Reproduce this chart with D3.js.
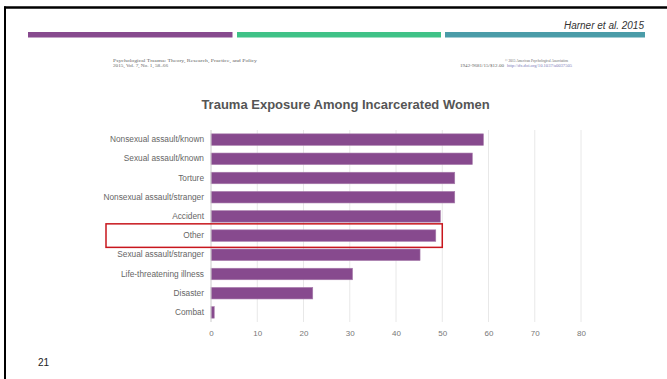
<!DOCTYPE html>
<html><head><meta charset="utf-8">
<script src="https://cdn.jsdelivr.net/npm/d3@7"></script>
<style>html,body{margin:0;padding:0;background:#fff;}svg{display:block;}</style>
</head><body>
<script>
const categories = ["Nonsexual assault/known","Sexual assault/known","Torture","Nonsexual assault/stranger","Accident","Other","Sexual assault/stranger","Life-threatening illness","Disaster","Combat"];
const values = [58.9, 56.5, 52.7, 52.7, 49.6, 48.6, 45.2, 30.6, 22.0, 0.7];
const xTicks = [0,10,20,30,40,50,60,70,80];
const highlighted = "Other";
const chartTitle = "Trauma Exposure Among Incarcerated Women";
const citation = "Harner et al. 2015";
const pageNumber = "21";

const W = 667, H = 379;
const svg = d3.select("body").append("svg").attr("width", W).attr("height", H);

// slide frame
svg.append("line").attr("x1",4).attr("x2",W).attr("y1",7.5).attr("y2",7.5).attr("stroke","#000").attr("stroke-width",2.5);
svg.append("line").attr("x1",5).attr("x2",5).attr("y1",6.5).attr("y2",H).attr("stroke","#000").attr("stroke-width",2);

// header color bars
const hdr = [[28,232.5,"#874a8e"],[237,441,"#3fc287"],[445,645,"#4a9ca8"]];
svg.selectAll("rect.hdr").data(hdr).join("rect").attr("class","hdr")
  .attr("x",d=>d[0]).attr("y",32).attr("width",d=>d[1]-d[0]).attr("height",5.5).attr("fill",d=>d[2]);

svg.append("text").attr("x",644).attr("y",28.5).attr("text-anchor","end")
  .attr("font-family","Liberation Sans, Arial, sans-serif").attr("font-style","italic")
  .attr("font-size",10).attr("fill","#333").text(citation);

// journal header text
const jf = "Liberation Serif, Times New Roman, serif";
function jt(x0, yy, len, txt, col){
  return svg.append("text").attr("x",x0).attr("y",yy).attr("font-family",jf).attr("font-size",4.6)
    .attr("fill",col||"#666").attr("textLength",len).attr("lengthAdjust","spacingAndGlyphs").text(txt);
}
jt(113, 61.5, 144, "Psychological Trauma: Theory, Research, Practice, and Policy");
jt(113, 66.5, 55, "2015, Vol. 7, No. 1, 58–66");
jt(505, 61.5, 63, "© 2015 American Psychological Association");
jt(460, 66.5, 44, "1942-9681/15/$12.00");
jt(507, 66.5, 65, "http://dx.doi.org/10.1037/a0037505", "#7a7ab8");

// chart
const x = d3.scaleLinear().domain([0,80]).range([211,581]);
const y = d3.scaleBand().domain(categories).range([130,322]).paddingInner(0.4).paddingOuter(0.2);

svg.append("text").attr("x",345.5).attr("y",109).attr("text-anchor","middle")
  .attr("font-family","Liberation Sans, Arial, sans-serif").attr("font-weight","bold")
  .attr("font-size",13).attr("fill","#555").text(chartTitle);

svg.append("g").selectAll("line").data(xTicks.filter(d=>d>0)).join("line")
  .attr("x1",d=>x(d)).attr("x2",d=>x(d)).attr("y1",130).attr("y2",322)
  .attr("stroke","#e8e8e8").attr("stroke-width",1);

const xAxis = svg.append("g").attr("transform","translate(0,322)")
  .call(d3.axisBottom(x).tickValues(xTicks).tickSize(0).tickPadding(8));
xAxis.select(".domain").remove();
xAxis.selectAll("text").attr("font-family","Liberation Sans, Arial, sans-serif").attr("font-size",8).attr("fill","#777");

svg.append("g").selectAll("rect").data(categories).join("rect")
  .attr("x",x(0)).attr("y",d=>y(d)).attr("width",(d,i)=>x(values[i])-x(0)).attr("height",y.bandwidth())
  .attr("fill","#874a8e").attr("stroke","#a77cab").attr("stroke-width",0.6);

svg.append("line").attr("x1",211).attr("x2",211).attr("y1",130).attr("y2",322).attr("stroke","#ccc");

const yAxis = svg.append("g").attr("transform","translate(211,0)")
  .call(d3.axisLeft(y).tickSize(0).tickPadding(7));
yAxis.select(".domain").remove();
yAxis.selectAll("text").attr("font-family","Liberation Sans, Arial, sans-serif").attr("font-size",8.3).attr("fill","#666");

// highlight box
const hi = categories.indexOf(highlighted);
svg.append("rect").attr("x",106).attr("y",y(highlighted)-6).attr("width",x(values[hi])-106+6.5)
  .attr("height",y.bandwidth()+12).attr("fill","none").attr("stroke","#c8161d").attr("stroke-width",1.5);

svg.append("text").attr("x",38).attr("y",366).attr("font-family","Liberation Sans, Arial, sans-serif")
  .attr("font-size",10).attr("fill","#222").text(pageNumber);
</script>
</body></html>
